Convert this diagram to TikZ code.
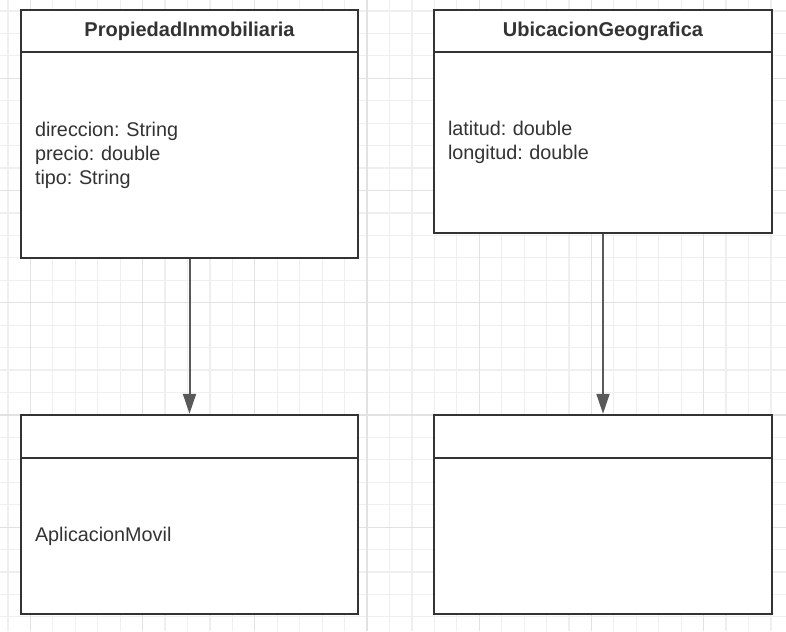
\documentclass[tikz,border=0pt]{standalone}
\usepackage{fontspec}
\setmainfont{Liberation Sans}
\usepackage{xcolor}
\usepackage{tikz}
\usetikzlibrary{arrows.meta}
\frenchspacing
\definecolor{ink}{HTML}{333333}
\definecolor{arrowgray}{HTML}{595959}
\definecolor{gridminor}{HTML}{EFEFEF}
\definecolor{gridmajor}{HTML}{E2E2E2}

\begin{document}
\begin{tikzpicture}[x=1pt, y=-1pt]
\tikzstyle{head}=[draw=ink, line width=2.5pt, fill=white, minimum height=42pt, inner sep=0pt, text=ink, font=\fontsize{20}{24}\selectfont\bfseries]
\tikzstyle{attrs}=[draw=ink, line width=2.5pt, fill=white, inner sep=0pt, align=left, text=ink, font=\fontsize{19.8}{24}\selectfont]
\tikzstyle{link}=[draw=arrowgray, line width=2pt, -{Triangle[length=20pt, width=13pt]}]
\useasboundingbox (0,0) rectangle (786,631);
\fill[white] (0,0) rectangle (786,631);

\foreach \i in {0,...,34} {
  \pgfmathsetmacro\gx{8+22.44*\i}
  \draw[gridminor, line width=1.2pt] (\gx,0) -- (\gx,631);
}
\foreach \j in {0,...,27} {
  \pgfmathsetmacro\gy{11+22.44*\j}
  \draw[gridminor, line width=1.2pt] (0,\gy) -- (786,\gy);
}
\foreach \i in {1,6,...,31} {
  \pgfmathsetmacro\gx{8+22.44*\i}
  \draw[gridmajor, line width=1.2pt] (\gx,0) -- (\gx,631);
}
\foreach \j in {3,8,...,23} {
  \pgfmathsetmacro\gy{11+22.44*\j}
  \draw[gridmajor, line width=1.2pt] (0,\gy) -- (786,\gy);
}

\node[head, minimum width=337pt] (prop) at (189.5,31) {PropiedadInmobiliaria};
\node[attrs, minimum width=337pt, minimum height=206pt, text width=309pt] (propattr) at (189.5,155) {direccion: String\\precio: double\\tipo: String};

\node[head, minimum width=338pt] (ubic) at (603,31) {UbicacionGeografica};
\node[attrs, minimum width=338pt, minimum height=181pt, text width=310pt] (ubicattr) at (603,142.5) {latitud: double\\longitud: double};

\node[head, minimum width=337pt, minimum height=43pt] (app) at (189.5,436.5) {};
\node[attrs, minimum width=337pt, minimum height=156pt, text width=309pt] (appattr) at (189.5,536) {AplicacionMovil};

\node[head, minimum width=338pt, minimum height=43pt] (ubicdest) at (603,436.5) {};
\node[attrs, minimum width=338pt, minimum height=156pt, text width=310pt] (ubicdestattr) at (603,536) {};

\path
(propattr) edge[link] (app)
(ubicattr) edge[link] (ubicdest);

\end{tikzpicture}
\end{document}
